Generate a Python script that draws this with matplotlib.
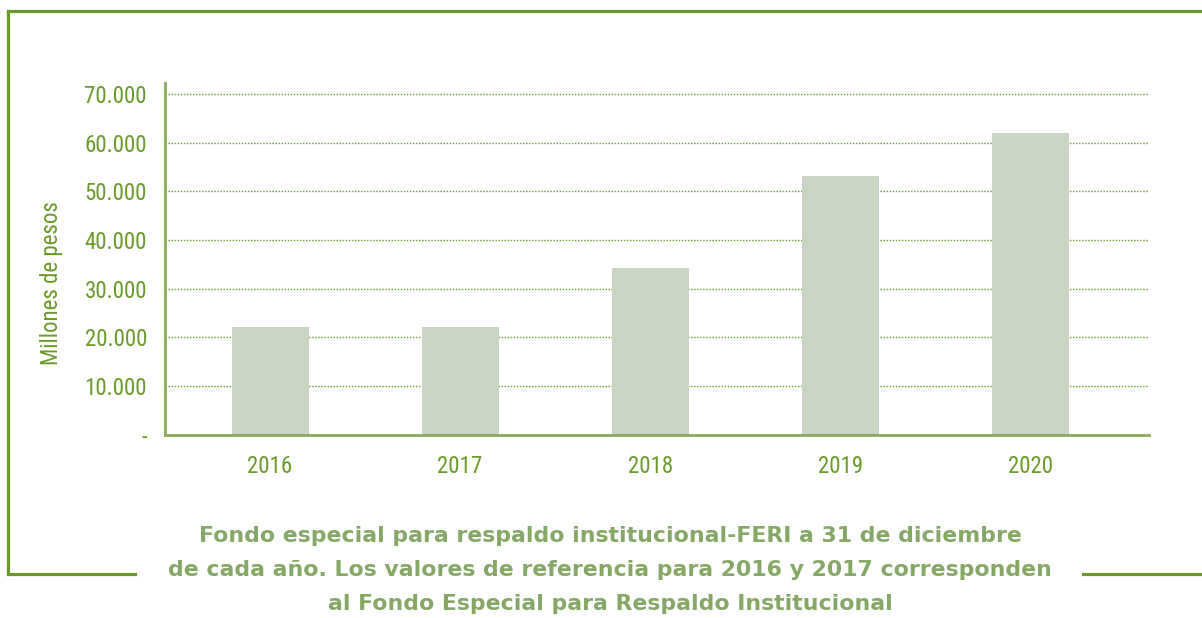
import matplotlib
matplotlib.use("Agg")
from matplotlib import pyplot as plt
from matplotlib import font_manager
from matplotlib.lines import Line2D
from matplotlib.ticker import FuncFormatter

# data
years = ["2016", "2017", "2018", "2019", "2020"]
valores = [22200, 22200, 34300, 53100, 62100]
yticks = [0, 10000, 20000, 30000, 40000, 50000, 60000, 70000]

verde = "#6a9a2a"
verde_eje = "#8aab5a"
barra = "#c9d4c2"
texto_nota = "#86a866"

# look for an upright narrow font for the axis text
candidatas = []
for f in font_manager.fontManager.ttflist:
    if ("Condensed" in f.name or "Narrow" in f.name or f.stretch == "condensed") \
            and f.style == "normal" and f.weight in (400, "normal", "regular"):
        candidatas.append(f)
fuente = None
for pref in ["Roboto Condensed", "Liberation Sans Narrow", "Archivo Narrow", "DejaVu Sans"]:
    for f in candidatas:
        if f.name == pref:
            fuente = font_manager.FontProperties(fname=f.fname)
            break
    if fuente is not None:
        break
if fuente is None and candidatas:
    fuente = font_manager.FontProperties(fname=candidatas[0].fname)
if fuente is None:
    fuente = font_manager.FontProperties(family="DejaVu Sans")

fig = plt.figure(figsize=(12.02, 6.18), dpi=100)
ax = fig.add_axes([165/1202, 1-434.5/618, (1149-165)/1202, (434.5-83)/618])

x = range(len(years))
ax.bar(x, valores, width=0.405, color=barra, zorder=2)

ax.set_xlim(-0.553, 4.626)
ax.set_ylim(0, 72300)
ax.set_xticks(list(x))
ax.set_xticklabels(years)
ax.set_yticks(yticks)
ax.yaxis.set_major_formatter(FuncFormatter(
    lambda v, p: "-" if v == 0 else f"{int(v):,}".replace(",", ".")))

ax.tick_params(axis="both", length=0, labelcolor=verde)
ax.tick_params(axis="y", pad=13)
ax.tick_params(axis="x", pad=15)
for t in ax.get_xticklabels() + ax.get_yticklabels():
    t.set_fontproperties(fuente)
    t.set_fontsize(16.5)

ax.grid(axis="y", linestyle=(0, (1, 1.2)), color=verde, linewidth=1.0, zorder=1)
ax.set_axisbelow(True)
for s in ["top", "right"]:
    ax.spines[s].set_visible(False)
for s in ["left", "bottom"]:
    ax.spines[s].set_color(verde_eje)
    ax.spines[s].set_linewidth(2)

ax.set_ylabel("Millones de pesos", fontproperties=fuente, fontsize=16.5, color=verde)
ax.yaxis.set_label_coords(-0.1037, 0.431)

# marco verde alrededor
lw = 2.3
fig.add_artist(Line2D([8/1202, 1], [1-11/618, 1-11/618], color=verde, lw=lw))
fig.add_artist(Line2D([8/1202, 8/1202], [1-11/618, 1-574/618], color=verde, lw=lw))
fig.add_artist(Line2D([8/1202, 135/1202], [1-574/618, 1-574/618], color=verde, lw=lw))
fig.add_artist(Line2D([1083/1202, 1], [1-574/618, 1-574/618], color=verde, lw=lw))

nota = ["Fondo especial para respaldo institucional-FERI a 31 de diciembre",
        "de cada año. Los valores de referencia para 2016 y 2017 corresponden",
        "al Fondo Especial para Respaldo Institucional"]
for i, linea in enumerate(nota):
    fig.text(610/1202, 1-(536+34*i)/618, linea, ha="center", va="center",
             fontsize=15.8, color=texto_nota, fontweight="bold",
             family=["DejaVu Sans"])

fig.savefig("out.png", dpi=100)
